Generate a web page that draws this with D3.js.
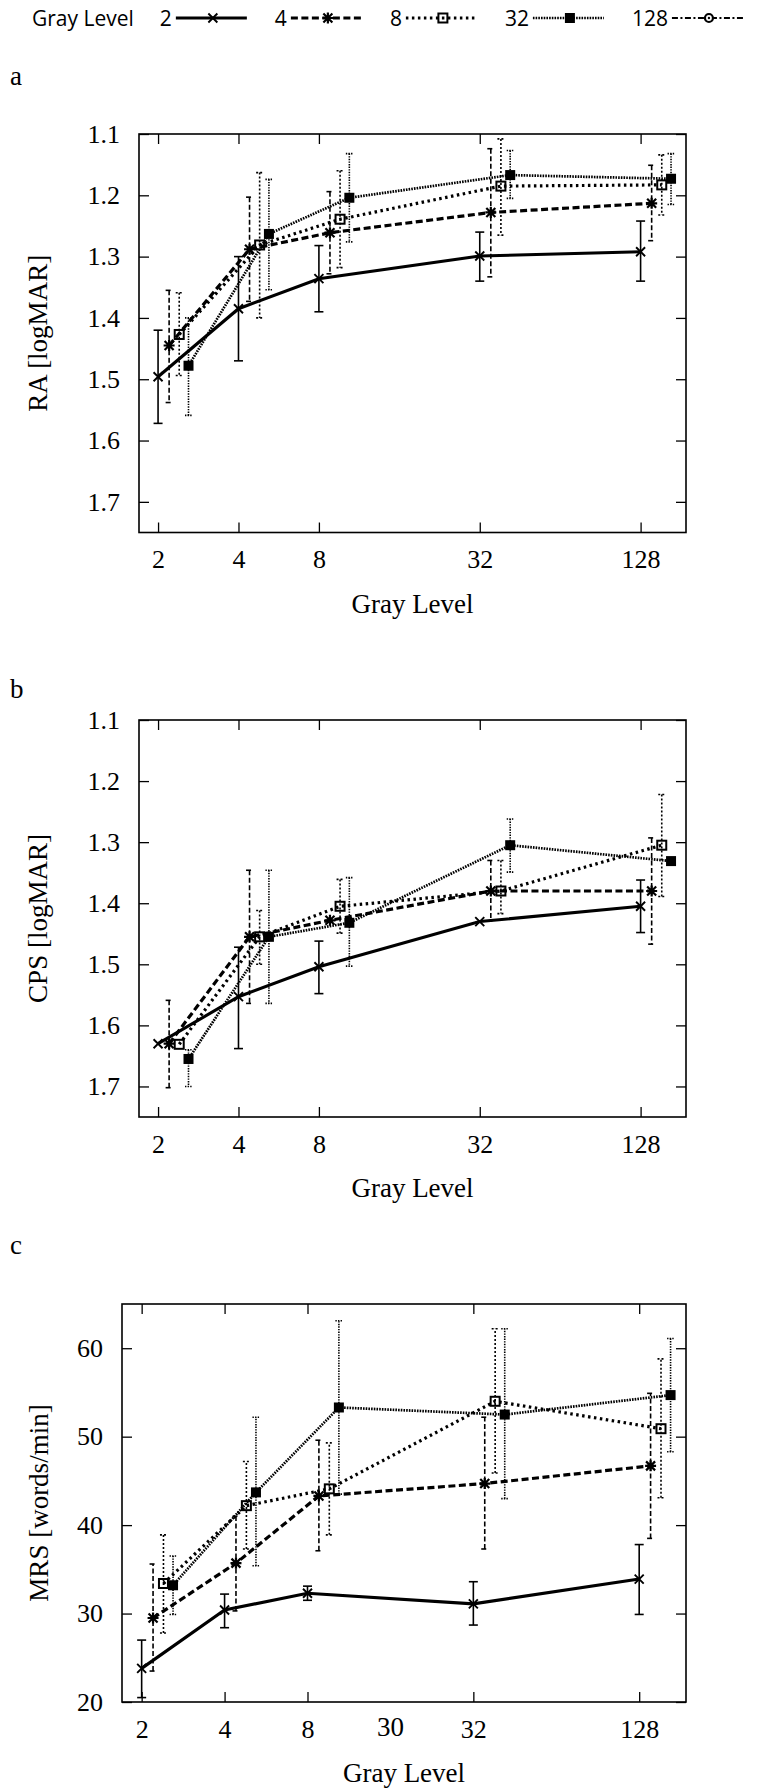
<!DOCTYPE html>
<html>
<head>
<meta charset="utf-8">
<script src="https://cdn.jsdelivr.net/npm/d3@7"></script>
<style>
  html, body { margin: 0; padding: 0; background: #fff; }
  svg { display: block; }
</style>
</head>
<body>
<svg id="chart" width="758" height="1792"></svg>
<script>
// ---- data ---------------------------------------------------------------
const grayLevels = [2, 4, 8, 32, 128];
const xTickLabels = ["2", "4", "8", "32", "128"];
const seriesNames = ["2", "4", "8", "32", "128"];
// each series is plotted slightly to the right of the previous one
const offsetFactors = [1, 1.1, 1.2, 1.3];

const logmarTicks = [1.1, 1.2, 1.3, 1.4, 1.5, 1.6, 1.7];
const logmarTickLabels = ["1.1", "1.2", "1.3", "1.4", "1.5", "1.6", "1.7"];
const mrsTicks = [20, 30, 40, 50, 60];
const mrsTickLabels = ["20", "30", "40", "50", "60"];

// RA [logMAR]: mean and error-bar ends, one row per series (2, 4, 8, 32)
const raMeans = [
  [1.496, 1.385, 1.336, 1.299, 1.292],
  [1.445, 1.288, 1.261, 1.228, 1.213],
  [1.427, 1.281, 1.239, 1.185, 1.183],
  [1.478, 1.263, 1.204, 1.167, 1.173]
];
const raLower = [
  [1.420, 1.300, 1.282, 1.260, 1.242],
  [1.355, 1.203, 1.194, 1.124, 1.151],
  [1.359, 1.163, 1.160, 1.108, 1.134],
  [1.400, 1.174, 1.132, 1.127, 1.132]
];
const raUpper = [
  [1.572, 1.470, 1.390, 1.340, 1.340],
  [1.538, 1.373, 1.328, 1.333, 1.274],
  [1.494, 1.400, 1.318, 1.265, 1.232],
  [1.559, 1.354, 1.276, 1.205, 1.215]
];

// CPS [logMAR]
const cpsMeans = [
  [1.630, 1.553, 1.504, 1.430, 1.405],
  [1.630, 1.455, 1.428, 1.380, 1.380],
  [1.631, 1.455, 1.405, 1.380, 1.305],
  [1.655, 1.455, 1.432, 1.305, 1.331]
];
const cpsLower = [
  [1.630, 1.472, 1.462, 1.430, 1.362],
  [1.559, 1.346, 1.428, 1.330, 1.293],
  [1.631, 1.412, 1.361, 1.330, 1.222],
  [1.640, 1.346, 1.358, 1.262, 1.331]
];
const cpsUpper = [
  [1.630, 1.638, 1.548, 1.430, 1.448],
  [1.702, 1.564, 1.428, 1.429, 1.467],
  [1.631, 1.500, 1.449, 1.417, 1.389],
  [1.700, 1.564, 1.503, 1.349, 1.331]
];

// MRS [words/min]
const mrsMeans = [
  [23.8, 30.4, 32.3, 31.1, 33.9],
  [29.5, 35.7, 43.3, 44.7, 46.7],
  [33.4, 42.2, 44.1, 54.0, 50.9],
  [33.2, 43.7, 53.3, 52.5, 54.7]
];
const mrsLower = [
  [20.5, 28.4, 31.5, 28.7, 29.9],
  [23.5, 30.3, 37.1, 37.3, 38.5],
  [27.8, 37.3, 38.9, 45.9, 43.1],
  [29.9, 35.4, 43.5, 43.0, 48.3]
];
const mrsUpper = [
  [27.0, 32.2, 33.1, 33.6, 37.8],
  [35.6, 41.0, 49.6, 52.2, 54.9],
  [38.9, 47.2, 49.3, 62.2, 58.8],
  [36.5, 52.2, 63.1, 62.2, 61.1]
];
// stray label printed under the MRS axis
const mrsExtraLabel = ["30", 16];

// ---- styles -------------------------------------------------------------
const lineStyles = [
  { dash: null,          width: 3.1, errDash: null,    marker: "cross" },
  { dash: "7,3.5",       width: 3.2, errDash: "5,2.5", marker: "asterisk" },
  { dash: "2.5,3.5",     width: 3.2, errDash: "2,2",   marker: "openSquare" },
  { dash: "1.6,1.1",     width: 2.7, errDash: "1.4,1.2", marker: "filledSquare" },
  { dash: "6,2.5,2,2.5", width: 2.2, errDash: null,    marker: "circle" }
];

const SERIF = "'Liberation Serif', 'Times New Roman', serif";
const SANS = "'Open Sans', 'DejaVu Sans', sans-serif";

const svg = d3.select("#chart");
const xDomain = [1.697, 189.3];

function drawMarker(g, type, cx, cy) {
  const m = g.append("g").attr("transform", `translate(${cx},${cy})`);
  if (type === "cross") {
    m.append("path").attr("d", "M-4.5,-4.5L4.5,4.5M-4.5,4.5L4.5,-4.5")
      .attr("stroke", "#000").attr("stroke-width", 1.9).attr("fill", "none");
  } else if (type === "asterisk") {
    m.append("path").attr("d", "M-4.5,-4.5L4.5,4.5M-4.5,4.5L4.5,-4.5M0,-5.5L0,5.5M-5.5,0L5.5,0")
      .attr("stroke", "#000").attr("stroke-width", 2.2).attr("fill", "none");
  } else if (type === "openSquare") {
    m.append("rect").attr("x", -4.5).attr("y", -4.5).attr("width", 9).attr("height", 9)
      .attr("fill", "none").attr("stroke", "#000").attr("stroke-width", 2);
  } else if (type === "filledSquare") {
    m.append("rect").attr("x", -5).attr("y", -5).attr("width", 10).attr("height", 10)
      .attr("fill", "#000");
  } else if (type === "circle") {
    m.append("circle").attr("r", 4).attr("fill", "#fff")
      .attr("stroke", "#000").attr("stroke-width", 2.2);
    m.append("circle").attr("r", 1.2).attr("fill", "#000");
  }
}

function drawPanel(p) {
  const g = svg.append("g");
  const x = d3.scaleLog().base(2).domain(xDomain).range([p.left, p.right]);
  const y = d3.scaleLinear().domain(p.yDomain).range(p.yRange);

  const styleAxis = sel => {
    sel.select(".domain").remove();
    sel.selectAll(".tick line").attr("stroke", "#000").attr("stroke-width", 1.3);
    sel.selectAll(".tick text").attr("font-family", SERIF).attr("font-size", 26).attr("fill", "#000");
  };

  g.append("g").attr("transform", `translate(0,${p.bottom})`)
    .call(d3.axisBottom(x).tickValues(grayLevels).tickFormat((d, i) => xTickLabels[i])
      .tickSize(-10).tickPadding(17.5))
    .call(styleAxis);
  g.append("g").attr("transform", `translate(0,${p.top})`)
    .call(d3.axisTop(x).tickValues(grayLevels).tickFormat("").tickSize(-10))
    .call(styleAxis);
  g.append("g").attr("transform", `translate(${p.left},0)`)
    .call(d3.axisLeft(y).tickValues(p.yTicks).tickFormat((d, i) => p.yTickLabels[i])
      .tickSize(-10).tickPadding(19))
    .call(styleAxis);
  g.append("g").attr("transform", `translate(${p.right},0)`)
    .call(d3.axisRight(y).tickValues(p.yTicks).tickFormat("").tickSize(-10))
    .call(styleAxis);

  g.append("rect")
    .attr("x", p.left).attr("y", p.top)
    .attr("width", p.right - p.left).attr("height", p.bottom - p.top)
    .attr("fill", "none").attr("stroke", "#000").attr("stroke-width", 1.6);

  if (p.extraLabel) {
    g.append("text")
      .attr("x", x(p.extraLabel[1])).attr("y", p.bottom + 34)
      .attr("text-anchor", "middle")
      .attr("font-family", SERIF).attr("font-size", 27)
      .text(p.extraLabel[0]);
  }

  // axis titles
  g.append("text")
    .attr("x", (p.left + p.right) / 2).attr("y", p.bottom + 80)
    .attr("text-anchor", "middle")
    .attr("font-family", SERIF).attr("font-size", 27)
    .text("Gray Level");
  g.append("text")
    .attr("transform", `translate(${p.titleX},${(p.top + p.bottom) / 2}) rotate(-90)`)
    .attr("text-anchor", "middle")
    .attr("font-family", SERIF).attr("font-size", 27)
    .text(p.yTitle);

  // panel letter
  g.append("text")
    .attr("x", 10).attr("y", p.letterY)
    .attr("font-family", SERIF).attr("font-size", 27)
    .text(p.letter);

  const line = d3.line().x(d => x(d.gx)).y(d => y(d.v));

  p.means.forEach((row, s) => {
    const st = lineStyles[s];
    const pts = row.map((v, i) => ({
      gx: grayLevels[i] * offsetFactors[s],
      v: v, lo: p.lower[s][i], hi: p.upper[s][i]
    }));
    const sg = g.append("g");

    // error bars
    pts.forEach(d => {
      if (d.lo === d.hi) return;
      const cx = x(d.gx);
      const eb = sg.append("g")
        .attr("stroke", "#000").attr("stroke-width", 1.6).attr("fill", "none");
      if (st.errDash) eb.attr("stroke-dasharray", st.errDash);
      eb.append("line").attr("x1", cx).attr("x2", cx).attr("y1", y(d.lo)).attr("y2", y(d.hi));
      const cw = s === 0 ? 4.5 : 3.5;
      [d.lo, d.hi].forEach(e => {
        eb.append("line").attr("x1", cx - cw).attr("x2", cx + cw)
          .attr("y1", y(e)).attr("y2", y(e)).attr("stroke-dasharray", null);
      });
    });

    const path = sg.append("path").datum(pts)
      .attr("d", line)
      .attr("fill", "none").attr("stroke", "#000")
      .attr("stroke-width", st.width);
    if (st.dash) path.attr("stroke-dasharray", st.dash);

    pts.forEach(d => drawMarker(sg, st.marker, x(d.gx), y(d.v)));
  });
}

const panels = [
  { letter: "a", letterY: 85, left: 139, right: 686, top: 134, bottom: 532.5,
    yDomain: [1.1, 1.75], yTicks: logmarTicks, yTickLabels: logmarTickLabels,
    yTitle: "RA [logMAR]", titleX: 47, invert: false,
    means: raMeans, lower: raLower, upper: raUpper },
  { letter: "b", letterY: 698, left: 139, right: 686, top: 720, bottom: 1117,
    yDomain: [1.1, 1.75], yTicks: logmarTicks, yTickLabels: logmarTickLabels,
    yTitle: "CPS [logMAR]", titleX: 47, invert: false,
    means: cpsMeans, lower: cpsLower, upper: cpsUpper },
  { letter: "c", letterY: 1254, left: 122, right: 686, top: 1304, bottom: 1702,
    yDomain: [20, 65], yTicks: mrsTicks, yTickLabels: mrsTickLabels,
    yTitle: "MRS [words/min]", titleX: 48, invert: true,
    means: mrsMeans, lower: mrsLower, upper: mrsUpper, extraLabel: mrsExtraLabel }
];
panels.forEach(p => {
  // logMAR grows downward; reading speed grows upward
  p.yRange = p.invert ? [p.bottom, p.top] : [p.top, p.bottom];
  drawPanel(p);
});

// ---- legend -------------------------------------------------------------
const legend = svg.append("g").attr("font-family", SANS).attr("font-size", 21);
const legendY = 18;
let cursor = 32;
const title = legend.append("text").attr("x", cursor).attr("y", legendY + 7.5).text("Gray Level");
cursor += title.node().getComputedTextLength() + 26;
seriesNames.forEach((name, s) => {
  const st = lineStyles[s];
  const t = legend.append("text").attr("x", cursor).attr("y", legendY + 7.5).text(name);
  cursor += t.node().getComputedTextLength() + 4;
  const ln = legend.append("line")
    .attr("x1", cursor).attr("x2", cursor + 71)
    .attr("y1", legendY).attr("y2", legendY)
    .attr("stroke", "#000").attr("stroke-width", st.width);
  if (st.dash) ln.attr("stroke-dasharray", st.dash);
  drawMarker(legend, st.marker, cursor + 37, legendY);
  cursor += 71 + 28;
});
</script>
</body>
</html>
